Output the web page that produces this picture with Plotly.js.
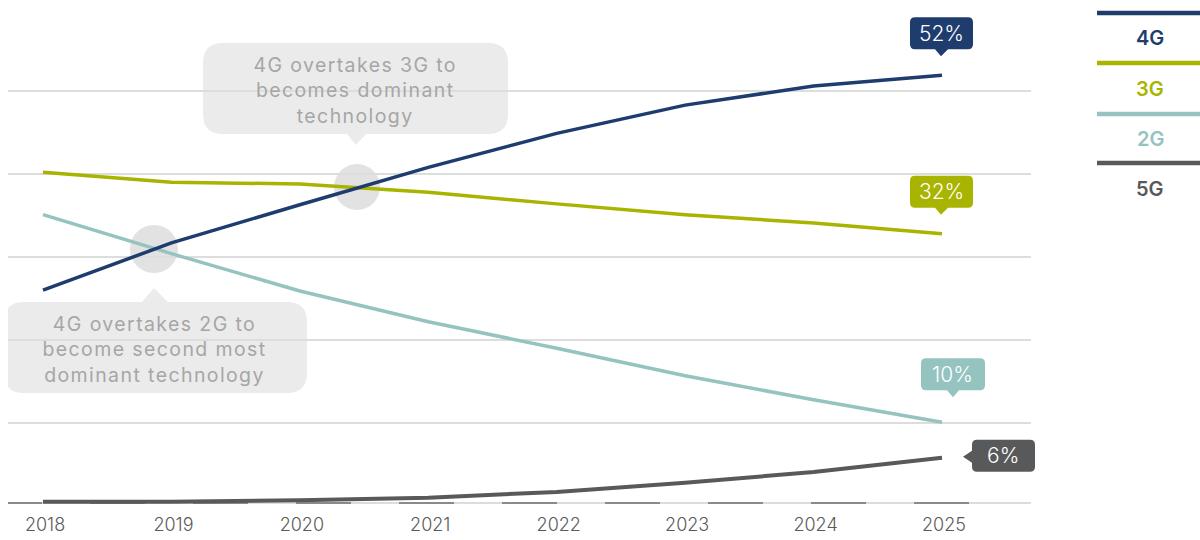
<!DOCTYPE html>
<html>
<head>
<meta charset="utf-8">
<script src="https://cdn.plot.ly/plotly-3.0.1.min.js"></script>
<style>
html,body{margin:0;padding:0;background:#fff;}
#chart{width:1200px;height:540px;}
#chart .annotation[data-index="0"] text,
#chart .annotation[data-index="1"] text{letter-spacing:1.4px;}
</style>
</head>
<body>
<div id="chart"></div>
<script>
// ---- data ----
const years = [2018, 2019, 2020, 2021, 2022, 2023, 2024, 2025];
const seriesNames = ['4G', '3G', '2G', '5G'];
const s4G = [26.0, 31.7, 36.3, 40.8, 44.9, 48.3, 50.6, 51.9];
const s3G = [40.2, 39.0, 38.8, 37.8, 36.4, 35.1, 34.1, 32.8];
const s2G = [35.1, 30.4, 25.9, 22.2, 19.0, 15.7, 12.8, 10.1];
const s5G = [0.5, 0.5, 0.7, 1.0, 1.7, 2.8, 4.1, 5.8];
const endLabels = ['52%', '32%', '10%', '6%'];
const note1 = '4G overtakes 3G to<br>becomes dominant<br>technology';
const note2 = '4G overtakes 2G to<br>become second most<br>dominant technology';
const yTicks = [10, 20, 30, 40, 50, 60];

// ---- style ----
const colors = {'4G': '#1e3c6e', '3G': '#a8b400', '2G': '#95c3bf', '5G': '#58595b'};
const FONT = 'Inter, Lato, sans-serif';
const W = 1200, H = 540;
const M = {l: 8, r: 169, t: 8, b: 34};
const plotW = W - M.l - M.r, plotH = H - M.t - M.b;
const xRange = [2017.7275, 2025.693];
const yRange = [0, 60];
function pyPaper(py) { return (H - M.b - py) / plotH; }
function pxPaper(px) { return (px - M.l) / plotW; }
// data -> paper fraction through the axis ranges (for unclipped overlays)
function xToPaper(x) { return (x - xRange[0]) / (xRange[1] - xRange[0]); }
function yToPaper(y) { return (y - yRange[0]) / (yRange[1] - yRange[0]); }

const seriesData = {'4G': s4G, '3G': s3G, '2G': s2G, '5G': s5G};

const traces = ['5G', '2G', '3G', '4G'].map(n => ({
  x: years, y: seriesData[n], type: 'scatter', mode: 'lines', name: n,
  line: {color: colors[n], width: n === '5G' ? 4 : 3.5}, cliponaxis: false, hoverinfo: 'skip'
}));

// rounded box path (pixel offsets, y up). pointer: {side, a, b, tx, ty}
function box(L, R, T, B, r, p) {
  let d = `M${L + r},${T}`;
  if (p && p.side === 'top') d += ` H${p.a} L${p.tx},${p.ty} L${p.b},${T}`;
  d += ` H${R - r} Q${R},${T} ${R},${T - r} V${B + r} Q${R},${B} ${R - r},${B}`;
  if (p && p.side === 'bottom') d += ` H${p.b} L${p.tx},${p.ty} L${p.a},${B}`;
  d += ` H${L + r} Q${L},${B} ${L},${B + r}`;
  if (p && p.side === 'left') d += ` V${p.a} L${p.tx},${p.ty} L${L},${p.b}`;
  d += ` V${T - r} Q${L},${T} ${L + r},${T} Z`;
  return d;
}

function anchoredPath(xref, yref, x, y, path, color, layer) {
  return {type: 'path', xref: xref, yref: yref, xsizemode: 'pixel', ysizemode: 'pixel',
    xanchor: x, yanchor: y, path: path, fillcolor: color, line: {width: 0}, layer: layer || 'above'};
}
function anchoredCircle(x, y, r, color) {
  return {type: 'circle', xref: 'x', yref: 'y', xsizemode: 'pixel', ysizemode: 'pixel',
    xanchor: x, yanchor: y, x0: -r, x1: r, y0: -r, y1: r, fillcolor: color, line: {width: 0}, layer: 'below'};
}

const shapes = [];
const annotations = [];
const last = years[years.length - 1];

// baseline
shapes.push({type: 'line', xref: 'paper', yref: 'y', x0: 0, x1: 1, y0: 0.36, y1: 0.36,
  line: {color: '#dcdcdc', width: 2}, layer: 'below'});
let dash = '34px,48px';
for (let i = 0; i < 11; i++) dash += ',55px,48px';
shapes.push({type: 'line', xref: 'paper', yref: 'y', x0: 0, x1: pxPaper(972), y0: 0.36, y1: 0.36,
  line: {color: '#8a8a8a', width: 2, dash: dash}, layer: 'below'});

// intersection callouts
const c1 = {x: 2020.445, y: 38.43};
const c2 = {x: 2018.864, y: 30.96};
const noteFont = {family: FONT, size: 19.5, color: '#a6a6a6', weight: 400};
shapes.push(anchoredCircle(c1.x, c1.y, 23, '#e2e2e2'));
shapes.push(anchoredCircle(c2.x, c2.y, 24, '#e2e2e2'));
shapes.push(anchoredPath('x', 'y', c1.x, c1.y,
  box(-154, 151, 144, 53, 20, {side: 'bottom', a: -10, b: 9, tx: -1, ty: 42}), '#ebebeb', 'below'));
shapes.push(anchoredPath('x', 'y', c2.x, c2.y,
  box(-150, 153, -53, -144, 20, {side: 'top', a: -12, b: 14, tx: 0, ty: -39}), '#ebebeb', 'below'));
annotations.push({x: c1.x, y: c1.y, xref: 'x', yref: 'y', xshift: -2, yshift: 97, showarrow: false,
  text: note1, align: 'center', font: noteFont});
annotations.push({x: c2.x, y: c2.y, xref: 'x', yref: 'y', xshift: 1, yshift: -100, showarrow: false,
  text: note2, align: 'center', font: noteFont});

// end value labels (paper-anchored so they are not clipped at the plot edge)
const endGeom = {
  '4G': {path: box(-32, 31, 58, 26, 5, {side: 'bottom', a: -7, b: 6, tx: -1, ty: 19}), tx: -0.5, ty: 42},
  '3G': {path: box(-32, 31, 58, 26, 5, {side: 'bottom', a: -7, b: 6, tx: -1, ty: 19}), tx: -0.5, ty: 42},
  '2G': {path: box(-21, 43, 64, 32, 5, {side: 'bottom', a: 5, b: 17, tx: 11, ty: 25}), tx: 11, ty: 48},
  '5G': {path: box(30, 93, 18, -14, 5, {side: 'left', a: -5, b: 7, tx: 21, ty: 1}), tx: 61.5, ty: 2}
};
seriesNames.forEach((n, i) => {
  const v = seriesData[n][seriesData[n].length - 1];
  const g = endGeom[n];
  shapes.push(anchoredPath('paper', 'paper', xToPaper(last), yToPaper(v), g.path, colors[n], 'above'));
  annotations.push({x: xToPaper(last), y: yToPaper(v), xref: 'paper', yref: 'paper',
    xanchor: 'center', yanchor: 'middle', xshift: g.tx, yshift: g.ty,
    showarrow: false, text: endLabels[i], font: {family: FONT, size: 21, color: '#ffffff', weight: 300}});
});

// custom legend
const legLineY = [13, 63, 114, 163];
const legTextY = [38, 89, 139, 189];
seriesNames.forEach((n, i) => {
  shapes.push({type: 'line', xref: 'paper', yref: 'paper', x0: pxPaper(1097), x1: pxPaper(1200),
    y0: pyPaper(legLineY[i]), y1: pyPaper(legLineY[i]), line: {color: colors[n], width: 4.5}});
  annotations.push({xref: 'paper', yref: 'paper', x: pxPaper(1150), y: pyPaper(legTextY[i]),
    xanchor: 'center', yanchor: 'middle', showarrow: false, text: n,
    font: {family: FONT, size: 20, color: colors[n], weight: 600}});
});

const layout = {
  width: W, height: H,
  margin: M,
  paper_bgcolor: '#ffffff', plot_bgcolor: '#ffffff',
  showlegend: false,
  font: {family: FONT},
  xaxis: {range: xRange, tickvals: years, ticktext: years.map(String),
    showgrid: false, zeroline: false, showline: false, ticks: '',
    tickfont: {family: FONT, size: 18, color: '#5a5a5a', weight: 300}, ticklabelstandoff: 6, ticklabelshift: 2,
    fixedrange: true},
  yaxis: {range: yRange, tickvals: yTicks, showticklabels: false, showgrid: true,
    gridcolor: '#dddddd', gridwidth: 1.5, zeroline: false, showline: false, fixedrange: true},
  shapes: shapes,
  annotations: annotations
};

Plotly.newPlot('chart', traces, layout, {displayModeBar: false, staticPlot: true});
</script>
</body>
</html>
